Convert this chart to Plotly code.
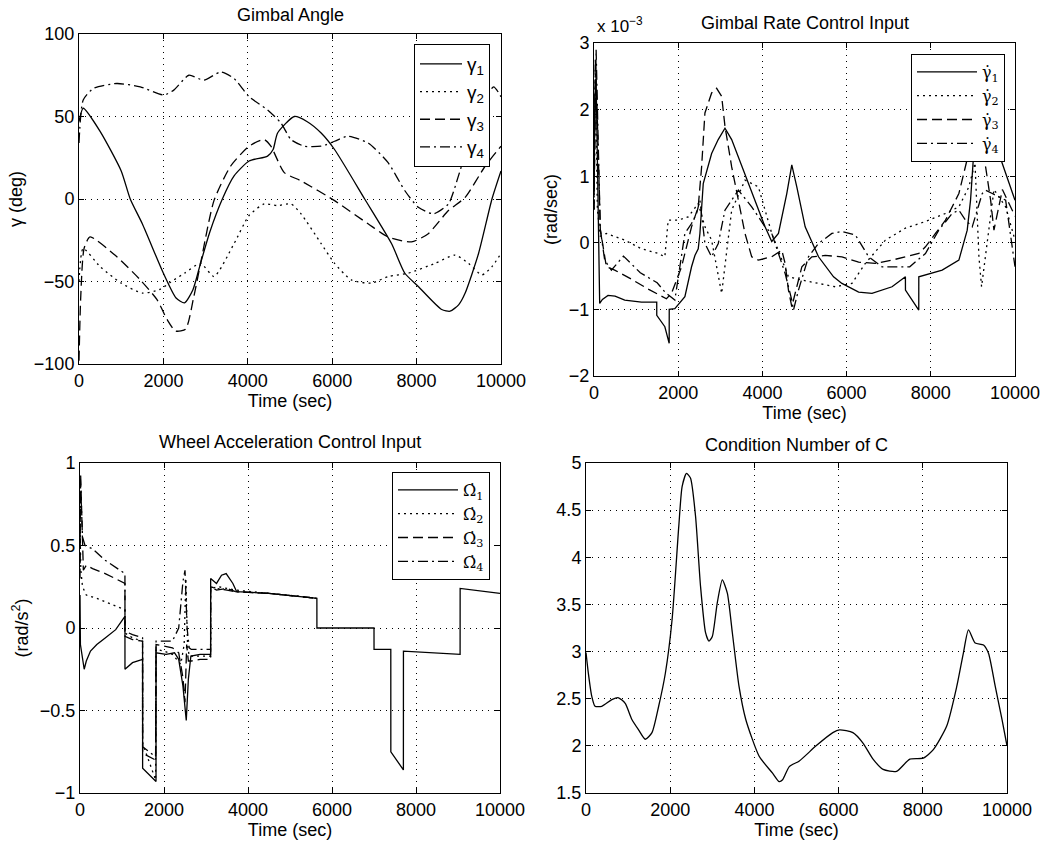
import plotly.graph_objects as go

W, H = 1050, 849

# ---------------- DATA ----------------
time_ticks = [0, 2000, 4000, 6000, 8000, 10000]

# Panel 1: Gimbal angle (deg)
g1_t = [0, 100, 500, 1000, 1214, 1500, 2000, 2300, 2500, 2700, 2880, 3100, 3397, 3675, 4030, 4468, 4600, 4706, 5103, 5400, 5738, 6056, 6770, 7405, 7722, 8040, 8595, 8794, 9000, 9151, 9468, 9786, 10000]
g1_v = [47, 55, 41, 17, 0, -15, -45, -60, -63, -55, -39, -20, 0, 14, 23, 26, 30, 40, 50, 47, 40, 30, 0, -27, -45, -53, -67, -68, -64, -57, -33, 0, 17]
g2_t = [0, 100, 500, 1000, 1500, 1900, 2250, 2500, 2880, 3200, 3675, 4030, 4390, 4706, 5024, 5262, 5738, 6056, 6452, 6929, 7325, 7800, 8437, 8913, 9230, 9548, 9786, 10000]
g2_v = [-50, -30, -41, -51, -57, -55, -49, -45, -39, -47, -27, -10, -3, -4, -3, -9, -27, -39, -49, -51, -47, -45, -39, -34, -39, -46, -41, -33]
g3_t = [0, 40, 120, 262, 897, 1452, 1849, 2087, 2286, 2524, 2722, 2881, 3198, 3595, 4030, 4388, 4547, 4865, 5262, 6056, 6849, 7325, 7880, 8277, 8754, 9151, 9627, 10000]
g3_v = [-98, -60, -30, -23, -35, -49, -61, -73, -80, -79, -59, -39, -1, 20, 32, 36, 32, 16, 11, -1, -15, -23, -26, -21, -7, 1, 20, 32]
g4_t = [0, 100, 341, 897, 1452, 2008, 2246, 2603, 2960, 3357, 3675, 4030, 4468, 4786, 5024, 5341, 5738, 6056, 6373, 6849, 7325, 7722, 8040, 8397, 8754, 8992, 9230, 9548, 9825, 10000]
g4_v = [34, 60, 67, 70, 68, 63, 66, 75, 72, 77, 73, 62, 54, 46, 36, 32, 32, 35, 38, 34, 22, 5, -5, -9, -3, 14, 34, 56, 68, 62]

# Panel 2: Gimbal rate control input (x 1e-3 rad/sec)
r1_t = [0, 20, 50, 90, 135, 200, 333, 500, 730, 1127, 1490, 1491, 1683, 1786, 1787, 1920, 2159, 2317, 2397, 2476, 2516, 2595, 2794, 2950, 3111, 3270, 3429, 3746, 4063, 4222, 4381, 4579, 4698, 4817, 5016, 5333, 5690, 5889, 6286, 6603, 7079, 7397, 7398, 7714, 7715, 8270, 8667, 8865, 8944, 9024, 9063, 9200, 9460, 9698, 10000]
r1_v = [0.8, 2.2, 2.45, 1.0, -0.91, -0.85, -0.79, -0.8, -0.86, -0.89, -0.89, -1.09, -1.26, -1.51, -1.0, -0.99, -0.81, -0.36, -0.19, -0.09, 0.14, 0.89, 1.34, 1.55, 1.72, 1.55, 1.29, 0.74, 0.24, 0.02, 0.14, 0.74, 1.17, 0.84, 0.24, -0.21, -0.51, -0.61, -0.74, -0.76, -0.66, -0.51, -0.71, -1.01, -0.51, -0.41, -0.26, 0.19, 0.64, 1.39, 1.75, 2.3, 1.65, 1.19, 0.64]
r2_t = [0, 30, 80, 150, 294, 730, 1127, 1524, 1683, 1762, 2000, 2238, 2476, 2635, 2794, 3032, 3270, 3587, 3905, 4222, 4619, 4937, 5333, 5730, 6127, 6444, 6921, 7397, 7873, 8349, 8667, 8905, 9050, 9143, 9206, 9300, 9381, 9500, 9778, 10000]
r2_v = [0.5, 2.6, 0.5, 0.1, 0.14, 0.04, -0.09, -0.16, -0.21, 0.34, 0.34, 0.39, 0.59, 0.24, 0.04, -0.76, 0.49, 0.94, 0.84, 0.14, -0.51, -0.56, -0.61, -0.66, -0.61, -0.31, 0.04, 0.22, 0.32, 0.44, 0.54, 0.84, 1.2, -0.21, -0.66, -0.2, 0.14, 0.8, 0.54, 0.04]
r3_t = [0, 30, 60, 150, 294, 492, 900, 1300, 1720, 1841, 2079, 2317, 2476, 2556, 2635, 2794, 2913, 3032, 3111, 3270, 3429, 3587, 3746, 3905, 4222, 4460, 4540, 4619, 4698, 4778, 4937, 5175, 5492, 5889, 6286, 6683, 7079, 7714, 7873, 8111, 8349, 8667, 8905, 9024, 9150, 9302, 9421, 9500, 9700, 10000]
r3_v = [0.5, 2.75, 2.3, 0.2, -0.36, -0.41, -0.55, -0.7, -0.84, -0.76, -0.36, 0.24, 0.54, 1.14, 1.95, 2.25, 2.32, 2.2, 1.75, 1.14, 0.64, 0.14, -0.21, -0.26, -0.21, -0.11, -0.31, -0.71, -0.96, -0.76, -0.36, -0.21, -0.19, -0.21, -0.29, -0.31, -0.26, -0.16, -0.06, 0.14, 0.34, 0.74, 1.34, 1.65, 2.0, 1.14, 0.64, 0.19, 0.8, 0.4]
r4_t = [0, 50, 100, 150, 254, 413, 700, 1100, 1500, 1700, 1920, 2159, 2317, 2436, 2516, 2635, 2794, 2952, 3111, 3429, 3746, 4063, 4222, 4540, 4698, 4738, 4857, 5095, 5333, 5650, 5889, 6206, 6524, 6841, 7159, 7500, 7873, 8190, 8508, 8667, 8825, 8984, 9222, 9302, 9460, 9778, 10000]
r4_v = [0.5, 2.9, 1.5, 0.2, -0.26, -0.41, -0.2, -0.45, -0.6, -0.75, -0.86, 0.14, 0.29, 0.44, 0.64, -0.01, -0.21, -0.01, 0.49, 0.79, 0.54, 0.24, 0.14, -0.46, -0.86, -1.01, -0.71, -0.21, -0.01, 0.14, 0.17, 0.12, -0.21, -0.36, -0.36, -0.36, -0.16, 0.19, 0.44, 0.49, 0.34, 0.24, 0.74, 0.79, 0.74, 0.64, -0.36]

# Panel 3: Wheel acceleration control input (rad/s^2)
w1_t = [0, 10, 100, 150, 250, 400, 600, 850, 1070, 1071, 1250, 1490, 1491, 1810, 1811, 2050, 2250, 2350, 2450, 2530, 2580, 2640, 2860, 3110, 3111, 3250, 3370, 3480, 3640, 3730, 4500, 5640, 5641, 7000, 7001, 7400, 7401, 7700, 7701, 9050, 9051, 10000]
w1_v = [0.2, -0.1, -0.25, -0.2, -0.14, -0.1, -0.06, -0.01, 0.07, -0.25, -0.21, -0.19, -0.85, -0.93, -0.15, -0.16, -0.15, -0.19, -0.35, -0.56, -0.31, -0.17, -0.16, -0.16, 0.30, 0.27, 0.32, 0.33, 0.27, 0.22, 0.21, 0.18, 0.0, 0.0, -0.13, -0.13, -0.75, -0.86, -0.14, -0.16, 0.24, 0.21]
w2_t = [0, 20, 60, 150, 400, 800, 1070, 1071, 1250, 1490, 1491, 1800, 1811, 2000, 2200, 2400, 2480, 2520, 2560, 2600, 2860, 3110, 3111, 3300, 3500, 3700, 4500, 5000, 5300, 5640]
w2_v = [0.6, 0.35, 0.25, 0.2, 0.18, 0.14, 0.11, -0.03, -0.06, -0.08, -0.7, -0.92, -0.13, -0.14, -0.16, -0.22, -0.1, 0.3, -0.1, -0.17, -0.17, -0.17, 0.24, 0.25, 0.24, 0.23, 0.21, 0.2, 0.19, 0.18]
w3_t = [0, 15, 80, 150, 300, 600, 1070, 1071, 1250, 1490, 1491, 1800, 1811, 2000, 2200, 2350, 2450, 2500, 2540, 2580, 2650, 2860, 3110, 3111, 3250, 3500, 3700, 4500, 5300, 5640]
w3_v = [0.3, 0.93, 0.35, 0.38, 0.36, 0.33, 0.27, -0.05, -0.07, -0.08, -0.76, -0.8, -0.1, -0.11, -0.12, -0.15, -0.3, -0.45, -0.1, -0.2, -0.2, -0.19, -0.19, 0.25, 0.23, 0.24, 0.22, 0.21, 0.19, 0.18]
w4_t = [0, 10, 60, 120, 300, 600, 1070, 1071, 1250, 1490, 1491, 1800, 1811, 2000, 2200, 2350, 2450, 2500, 2550, 2600, 2650, 2860, 3110, 3111, 3250, 3500, 3700, 4500, 5300, 5640]
w4_v = [0.4, 0.9, 0.55, 0.5, 0.48, 0.41, 0.33, -0.02, -0.04, -0.06, -0.72, -0.78, -0.08, -0.08, -0.08, 0.0, 0.28, 0.35, 0.0, -0.12, -0.13, -0.13, -0.13, 0.25, 0.24, 0.23, 0.22, 0.21, 0.19, 0.18]

# Panel 4: Condition number of C
c_t = [0, 56, 135, 215, 374, 613, 772, 931, 1090, 1249, 1408, 1567, 1726, 1885, 2045, 2204, 2283, 2387, 2482, 2601, 2721, 2840, 2920, 3000, 3119, 3238, 3357, 3476, 3635, 3795, 4113, 4431, 4590, 4670, 4829, 5068, 5465, 5863, 6022, 6340, 6579, 6818, 7057, 7375, 7693, 8011, 8250, 8568, 8807, 8966, 9085, 9244, 9443, 9562, 9721, 9881, 10000]
c_v = [2.99, 2.77, 2.53, 2.42, 2.42, 2.49, 2.51, 2.45, 2.28, 2.17, 2.07, 2.14, 2.42, 2.77, 3.34, 4.33, 4.75, 4.89, 4.84, 4.44, 3.69, 3.20, 3.11, 3.16, 3.52, 3.76, 3.62, 3.20, 2.63, 2.28, 1.89, 1.71, 1.62, 1.64, 1.78, 1.84, 2.0, 2.14, 2.17, 2.14, 2.03, 1.86, 1.75, 1.73, 1.86, 1.87, 1.96, 2.21, 2.63, 2.99, 3.23, 3.09, 3.07, 2.98, 2.63, 2.28, 2.0]

gamma_names = ['γ<sub>1</sub>', 'γ<sub>2</sub>', 'γ<sub>3</sub>', 'γ<sub>4</sub>']
gdot_names = ['γ\u0307<sub>1</sub>', 'γ\u0307<sub>2</sub>', 'γ\u0307<sub>3</sub>', 'γ\u0307<sub>4</sub>']
odot_names = ['Ω\u0307<sub>1</sub>', 'Ω\u0307<sub>2</sub>', 'Ω\u0307<sub>3</sub>', 'Ω\u0307<sub>4</sub>']

# ---------------- FIGURE ----------------
DASH = ['solid', '2px,4px', '10px,5px', '10px,4px,2px,4px']
SANS = 'Liberation Sans, Arial, Helvetica, sans-serif'
SERIF = 'DejaVu Serif, Liberation Serif, serif'

fig = go.Figure()

def add(ts, vs, names, xa, ya, legend, shape='linear'):
    for i, (t, v) in enumerate(zip(ts, vs)):
        fig.add_trace(go.Scatter(
            x=t, y=v, mode='lines', name=names[i] if names else '',
            showlegend=bool(names), legend=legend,
            line=dict(color='black', width=1.3, dash=DASH[i], shape=shape,
                      **({'smoothing': 0.6} if shape == 'spline' else {})),
            xaxis=xa, yaxis=ya))

add([g1_t, g2_t, g3_t, g4_t], [g1_v, g2_v, g3_v, g4_v], gamma_names, 'x', 'y', 'legend', 'spline')
add([r1_t, r2_t, r3_t, r4_t], [r1_v, r2_v, r3_v, r4_v], gdot_names, 'x2', 'y2', 'legend2')
add([w1_t, w2_t, w3_t, w4_t], [w1_v, w2_v, w3_v, w4_v], odot_names, 'x3', 'y3', 'legend3')
add([c_t], [c_v], None, 'x4', 'y4', 'legend', 'spline')

def dom_x(a, b):
    return [a / W, b / W]

def dom_y(top, bottom):
    return [1 - bottom / H, 1 - top / H]

base = dict(showline=True, linecolor='black', linewidth=1, mirror='ticks',
            ticks='inside', ticklen=5, tickcolor='black', showgrid=True,
            gridcolor='black', gridwidth=1, griddash='1px,5px', zeroline=False,
            tickfont=dict(family=SANS, size=18, color='black'),
            automargin=False)

def xax(dom, anchor):
    return dict(base, domain=dom, anchor=anchor, range=[0, 10000], tickvals=time_ticks, tickformat='d',
                title=dict(text='Time (sec)', font=dict(family=SANS, size=18, color='black'), standoff=2))

def yax(dom, anchor, rng, dt, title):
    return dict(base, domain=dom, anchor=anchor, range=rng, dtick=dt, tick0=rng[0],
                title=dict(text=title, font=dict(family=SANS, size=18, color='black'), standoff=6))

P1 = (79, 501, 34, 364)
P2 = (594, 1015, 43, 376)
P3 = (80, 500, 463, 793)
P4 = (586, 1007, 463, 793)

legend_common = dict(xanchor='right', yanchor='top', bordercolor='black', borderwidth=1,
                     bgcolor='white', tracegroupgap=0)

fig.update_layout(
    width=W, height=H, template='none',
    margin=dict(l=0, r=0, t=0, b=0),
    paper_bgcolor='white', plot_bgcolor='white',
    xaxis=xax(dom_x(P1[0], P1[1]), 'y'),
    yaxis=yax(dom_y(P1[2], P1[3]), 'x', [-100, 100], 50, 'γ (deg)'),
    xaxis2=xax(dom_x(P2[0], P2[1]), 'y2'),
    yaxis2=yax(dom_y(P2[2], P2[3]), 'x2', [-2, 3], 1, '(rad/sec)'),
    xaxis3=xax(dom_x(P3[0], P3[1]), 'y3'),
    yaxis3=yax(dom_y(P3[2], P3[3]), 'x3', [-1, 1], 0.5, '(rad/s<sup>2</sup>)'),
    xaxis4=xax(dom_x(P4[0], P4[1]), 'y4'),
    yaxis4=yax(dom_y(P4[2], P4[3]), 'x4', [1.5, 5], 0.5, ''),
    legend=dict(legend_common, x=490 / W, y=1 - 44 / H, itemwidth=42,
                font=dict(family=SANS, size=19, color='black')),
    legend2=dict(legend_common, x=1005 / W, y=1 - 54 / H, itemwidth=60,
                 font=dict(family=SERIF, size=16, color='black')),
    legend3=dict(legend_common, x=490 / W, y=1 - 472 / H, itemwidth=60,
                 font=dict(family=SERIF, size=16, color='black')),
)

titles = [('Gimbal Angle', P1, 15), ('Gimbal Rate Control Input', P2, 23),
          ('Wheel Acceleration Control Input', P3, 442), ('Condition Number of C', P4, 445)]
for text, P, ypix in titles:
    fig.add_annotation(text=text, x=(P[0] + P[1]) / 2 / W, y=1 - ypix / H, xref='paper', yref='paper',
                       showarrow=False, xanchor='center', yanchor='middle',
                       font=dict(family=SANS, size=18, color='black'))

fig.add_annotation(text='x 10<sup>−3</sup>', x=595 / W, y=1 - 25 / H, xref='paper', yref='paper',
                   showarrow=False, xanchor='left', yanchor='middle',
                   font=dict(family=SANS, size=17, color='black'))

fig.write_html('out.html')
